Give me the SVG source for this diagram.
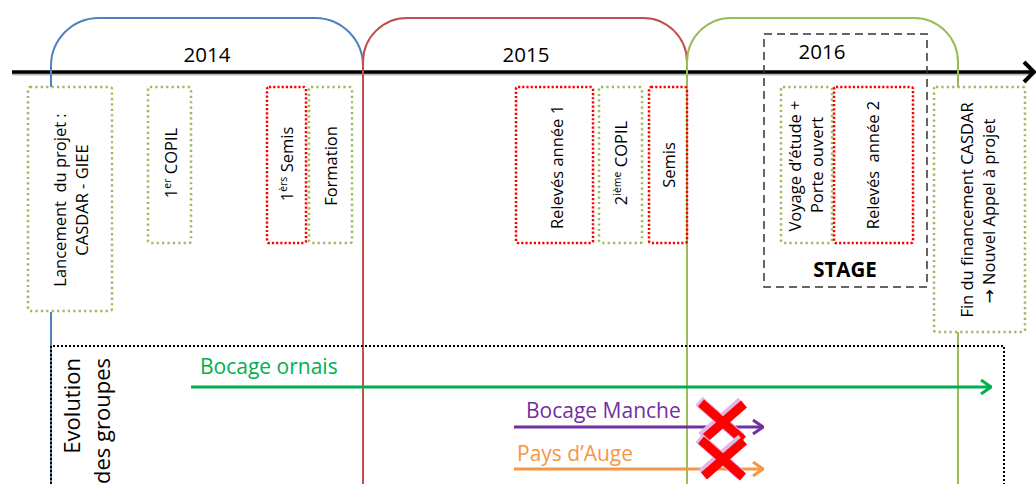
<svg xmlns="http://www.w3.org/2000/svg" width="1036" height="484" viewBox="0 0 1036 484">
<style>
text{font-family:"Open Sans","Liberation Sans",sans-serif;fill:#000}
.bt{font-size:16.5px}
.yr{font-size:20.5px}
.g{fill:none;stroke:#9BBB59;stroke-width:2.5;stroke-dasharray:2.2 3.2}
.r{fill:none;stroke:#FF0000;stroke-width:2.5;stroke-dasharray:2.2 2}
.sup{font-size:10.5px}
.arr{font-family:"DejaVu Sans",sans-serif;font-size:17px}
</style>
<defs>
<marker id="ah" viewBox="0 0 12 16" refX="11" refY="8" markerWidth="12" markerHeight="16" markerUnits="userSpaceOnUse" orient="auto">
<polyline points="1,1 11,8 1,15" fill="none" stroke="context-stroke" stroke-width="3"/>
</marker>
</defs>
<rect width="1036" height="484" fill="#fff"/>
<g id="connectors">
<line x1="12" y1="74" x2="1030" y2="74" stroke="#bbb" stroke-width="3"/>
<line x1="12" y1="72" x2="1033" y2="72" stroke="#000" stroke-width="3.5"/>
<polyline points="1024,62 1034,72 1024,82" fill="none" stroke="#000" stroke-width="4"/>
<path d="M51,87 V66 A48,48 0 0 1 99,18 H315 A48,48 0 0 1 363,66 V72" fill="none" stroke="#4F81BD" stroke-width="2"/>
<line x1="51" y1="312" x2="51" y2="484" stroke="#4F81BD" stroke-width="2"/>
<path d="M363,484 V62 A44,44 0 0 1 407,18 H643 A44,44 0 0 1 687,62 V72" fill="none" stroke="#C0504D" stroke-width="2"/>
<path d="M687,484 V62 A44,44 0 0 1 731,18 H914 A44,44 0 0 1 958,62 V87" fill="none" stroke="#9BBB59" stroke-width="2"/>
<line x1="958" y1="332" x2="958" y2="484" stroke="#9BBB59" stroke-width="2"/>
<path d="M51,496 V346 H1004 V496" fill="none" stroke="#000" stroke-width="2" stroke-dasharray="2 2"/>
<line x1="191" y1="387" x2="991" y2="387" stroke="#00B050" stroke-width="3" marker-end="url(#ah)"/>
<line x1="514" y1="427" x2="763" y2="427" stroke="#7030A0" stroke-width="3" marker-end="url(#ah)"/>
<line x1="514" y1="469" x2="763" y2="469" stroke="#F79646" stroke-width="3" marker-end="url(#ah)"/>
</g>
<g id="years">
<text class="yr" x="207" y="62" text-anchor="middle">2014</text>
<text class="yr" x="526" y="62" text-anchor="middle">2015</text>
<text class="yr" x="822" y="59" text-anchor="middle">2016</text>
</g>
<g id="stage">
<rect x="764" y="34" width="163" height="253" fill="none" stroke="#333" stroke-width="1.5" stroke-dasharray="8 5"/>
<text x="845" y="277" text-anchor="middle" font-weight="bold" font-size="20.5px">STAGE</text>
</g>
<g id="n-lancement">
<rect class="g" x="28" y="87" width="84" height="224" rx="2"/>
<text class="bt" transform="translate(66,200) rotate(-90)" text-anchor="middle">Lancement&#160; du projet :</text>
<text class="bt" transform="translate(88,200) rotate(-90)" text-anchor="middle">CASDAR - GIEE</text>
</g>
<g id="n-copil1">
<rect class="g" x="148" y="87" width="43" height="156" rx="2"/>
<text class="bt" transform="translate(177,163) rotate(-90)" text-anchor="middle">1<tspan class="sup" dy="-6">er</tspan><tspan dy="6"> COPIL</tspan></text>
</g>
<g id="n-semis1">
<rect class="r" x="267" y="87" width="39" height="156" rx="2"/>
<text class="bt" transform="translate(293,164) rotate(-90)" text-anchor="middle">1<tspan class="sup" dy="-6">èrs</tspan><tspan dy="6"> Semis</tspan></text>
</g>
<g id="n-formation">
<rect class="g" x="309" y="87" width="43" height="156" rx="2"/>
<text class="bt" transform="translate(337,166) rotate(-90)" text-anchor="middle">Formation</text>
</g>
<g id="n-releves1">
<rect class="r" x="516" y="87" width="77" height="156" rx="2"/>
<text class="bt" transform="translate(563,167) rotate(-90)" text-anchor="middle">Relevés année 1</text>
</g>
<g id="n-copil2">
<rect class="g" x="599" y="87" width="43" height="156" rx="2"/>
<text class="bt" transform="translate(627,163) rotate(-90)" text-anchor="middle">2<tspan class="sup" dy="-6">ième</tspan><tspan dy="6"> COPIL</tspan></text>
</g>
<g id="n-semis2">
<rect class="r" x="649" y="87" width="38" height="156" rx="2"/>
<text class="bt" transform="translate(675,165) rotate(-90)" text-anchor="middle">Semis</text>
</g>
<g id="n-voyage">
<rect class="g" x="781" y="87" width="51" height="156" rx="2"/>
<text class="bt" transform="translate(801,166) rotate(-90)" text-anchor="middle">Voyage d’étude +</text>
<text class="bt" transform="translate(823,165) rotate(-90)" text-anchor="middle">Porte ouvert</text>
</g>
<g id="n-releves2">
<rect class="r" x="834" y="87" width="79" height="156" rx="2"/>
<text class="bt" transform="translate(879,165) rotate(-90)" text-anchor="middle">Relevés&#160; année 2</text>
</g>
<g id="n-fin">
<rect class="g" x="934" y="87" width="91" height="245" rx="2"/>
<text class="bt" transform="translate(973,210) rotate(-90)" text-anchor="middle">Fin du financement CASDAR</text>
<text class="bt" transform="translate(995,211) rotate(-90)" text-anchor="middle"><tspan class="arr">→</tspan> Nouvel Appel à projet</text>
</g>
<g id="n-evolution">
<text font-size="22px" transform="translate(80,358) rotate(-90)" text-anchor="end">Evolution</text>
<text font-size="22px" transform="translate(110,358) rotate(-90)" text-anchor="end">des groupes</text>
</g>
<g id="groups">
<text x="200" y="374" font-size="21px" style="fill:#00B050">Bocage ornais</text>
<text x="526" y="418" font-size="21px" style="fill:#7030A0">Bocage Manche</text>
<text x="517" y="461" font-size="21px" style="fill:#F79646">Pays d’Auge</text>
</g>
<g id="crosses">
<path d="M701,403 L743,440 M744,404 L704,439" stroke="#E3B7E8" stroke-width="11" fill="none" transform="translate(-2,-2)"/>
<path d="M701,403 L743,440 M744,404 L704,439" stroke="#FF0000" stroke-width="9" fill="none"/>
<path d="M701,440 L743,477 M744,441 L704,476" stroke="#E3B7E8" stroke-width="11" fill="none" transform="translate(-2,-2)"/>
<path d="M701,440 L743,477 M744,441 L704,476" stroke="#FF0000" stroke-width="9" fill="none"/>
</g>
</svg>
